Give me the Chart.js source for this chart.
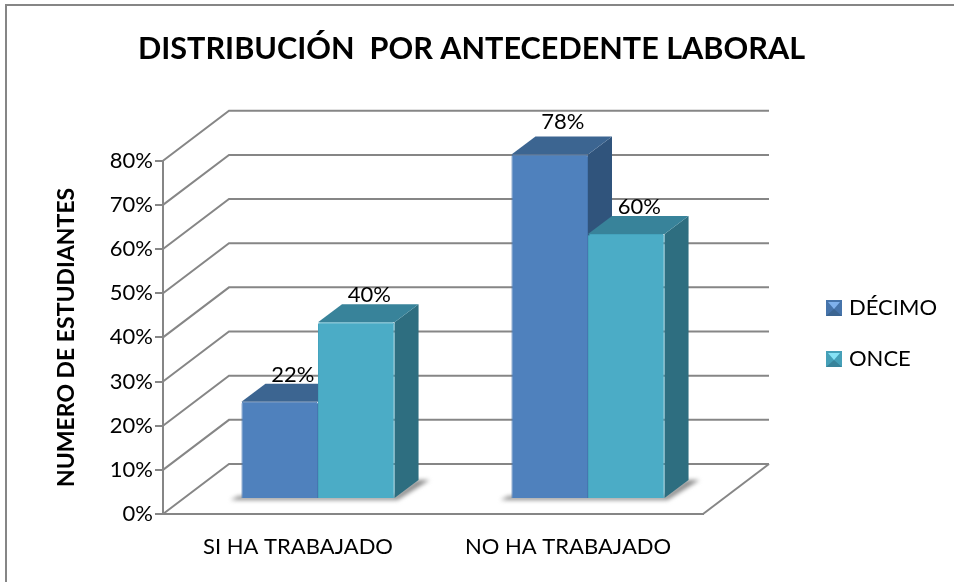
<!DOCTYPE html>
<html lang="es">
<head>
<meta charset="utf-8">
<title>Distribución por antecedente laboral</title>
<script src="https://cdn.jsdelivr.net/npm/chart.js@4"></script>
<style>
    html, body { margin: 0; background: #fff; }
    #wrap { position: relative; width: 954px; height: 582px; overflow: hidden; }
    #wrap::after { content: ""; position: absolute; left: 5px; top: 4px; width: 949px; height: 578px; box-sizing: border-box; border-left: 2px solid #868686; border-top: 2px solid #868686; pointer-events: none; }
</style>
</head>
<body>
<div id="wrap"><canvas id="grafico" width="954" height="582"></canvas></div>
<script>
const categorias = ['SI HA TRABAJADO', 'NO HA TRABAJADO'];
const decimo = [22, 78];
const once = [40, 60];
const nombres = ['DÉCIMO', 'ONCE'];
const marcasY = [0, 10, 20, 30, 40, 50, 60, 70, 80];

const FUENTE = 'Lato';
const GRIS = '#868686';
// offset of the back wall and of the bars from the front of the floor
const FONDO = { x: 66, y: -50 };
const BARRA = { x: 20, y: -15 };
const PROF = { x: 24, y: -18 };
const CARAS = [
    { frente: '#4f81bd', borde: '#4676b0', techo: '#3c6591', lado: '#30547c' },
    { frente: '#4bacc6', borde: '#44a3bd', techo: '#38839a', lado: '#2e6e80' }
];

function iconoLeyenda(base, luz, sombraIcono) {
    const cv = document.createElement('canvas');
    cv.width = 16; cv.height = 16;
    const g = cv.getContext('2d');
    g.fillStyle = base; g.fillRect(0, 0, 16, 16);
    g.fillStyle = luz;
    g.beginPath(); g.moveTo(2, 2); g.lineTo(14, 2); g.lineTo(8, 9); g.closePath(); g.fill();
    g.fillStyle = sombraIcono;
    g.beginPath(); g.moveTo(0, 16); g.lineTo(16, 16); g.lineTo(8, 9); g.closePath(); g.fill();
    return cv;
}
const iconos = [iconoLeyenda('#4674ab', '#7fb1ec', '#3c6591'), iconoLeyenda('#45a0b8', '#86e2f5', '#38839a')];

// walls and floor, taken from the y scale
const paredes = {
    id: 'paredes',
    beforeDatasetsDraw(chart) {
        const { ctx, scales: { x, y } } = chart;
        ctx.save();
        ctx.strokeStyle = GRIS;
        ctx.lineWidth = 2;
        marcasY.forEach(v => {
            const py = y.getPixelForValue(v);
            ctx.beginPath();
            ctx.moveTo(x.left, py);
            ctx.lineTo(x.left + FONDO.x, py + FONDO.y);
            ctx.lineTo(x.right + FONDO.x, py + FONDO.y);
            ctx.stroke();
        });
        const base = y.getPixelForValue(0);
        ctx.beginPath();
        ctx.moveTo(x.right, base);
        ctx.lineTo(x.right + FONDO.x, base + FONDO.y);
        ctx.stroke();
        ctx.restore();
    }
};

// soft shadow on the floor under each pair of bars
const sombra = {
    id: 'sombra',
    beforeDatasetsDraw(chart) {
        const { ctx } = chart;
        const a = chart.getDatasetMeta(0).data;
        const b = chart.getDatasetMeta(1).data;
        ctx.save();
        ctx.filter = 'blur(2px)';
        ctx.fillStyle = '#8c8c8c';
        a.forEach((el, i) => {
            const izq = el.x - el.width / 2 + BARRA.x;
            const der = b[i].x + b[i].width / 2 + BARRA.x;
            const suelo = el.base + BARRA.y;
            ctx.beginPath();
            ctx.moveTo(izq - 11, suelo + 2);
            ctx.lineTo(der + 3, suelo + 2);
            ctx.lineTo(der + PROF.x + 11, suelo + PROF.y);
            ctx.lineTo(der + PROF.x - 2, suelo + PROF.y);
            ctx.lineTo(der, suelo - 2);
            ctx.lineTo(izq - 3, suelo - 2);
            ctx.closePath();
            ctx.fill();
        });
        ctx.restore();
    }
};

// the library draws the front faces; tops and sides come from the same elements
const barras3d = {
    id: 'barras3d',
    beforeDatasetsDraw(chart) {
        const { ctx } = chart;
        chart.data.datasets.forEach((ds, d) => {
            const cara = CARAS[d];
            chart.getDatasetMeta(d).data.forEach(el => {
                const l = el.x - el.width / 2 + BARRA.x;
                const r = el.x + el.width / 2 + BARRA.x;
                const t = el.y + BARRA.y;
                const b = el.base + BARRA.y;
                ctx.fillStyle = cara.lado;
                ctx.beginPath();
                ctx.moveTo(r, t);
                ctx.lineTo(r + PROF.x, t + PROF.y);
                ctx.lineTo(r + PROF.x, b + PROF.y);
                ctx.lineTo(r, b);
                ctx.closePath();
                ctx.fill();
                ctx.fillStyle = cara.techo;
                ctx.beginPath();
                ctx.moveTo(l, t);
                ctx.lineTo(l + PROF.x, t + PROF.y);
                ctx.lineTo(r + PROF.x, t + PROF.y);
                ctx.lineTo(r, t);
                ctx.closePath();
                ctx.fill();
            });
        });
    },
    beforeDatasetDraw(chart) {
        chart.ctx.save();
        chart.ctx.translate(BARRA.x, BARRA.y);
    },
    afterDatasetDraw(chart) {
        chart.ctx.restore();
    },
    afterDatasetsDraw(chart) {
        const { ctx } = chart;
        ctx.save();
        ctx.fillStyle = '#000';
        ctx.font = '22px ' + FUENTE;
        ctx.textAlign = 'center';
        ctx.textBaseline = 'middle';
        chart.data.datasets.forEach((ds, d) => {
            chart.getDatasetMeta(d).data.forEach((el, i) => {
                // the tallest label sits a little higher in the original
                const extra = ds.data[i] === 78 ? -6 : 0;
                ctx.fillText(ds.data[i] + '%', el.x + BARRA.x + 13, el.y + BARRA.y - 27 + extra);
            });
        });
        ctx.restore();
    }
};

// legend: fixed width so the plot keeps its place, then moved next to the floor
const leyendaFija = {
    id: 'leyendaFija',
    beforeInit(chart) {
        const fit = chart.legend.fit;
        chart.legend.fit = function () {
            fit.call(this);
            this.width = 251;
        };
    },
    afterLayout(chart) {
        chart.legend.left = 801;
        chart.legend.right = 954;
        chart.legend.top = 268;
        chart.titleBlock.right -= 11;
    }
};

new Chart(document.getElementById('grafico'), {
    type: 'bar',
    data: {
        labels: categorias,
        datasets: [
            { label: nombres[0], data: decimo, backgroundColor: CARAS[0].frente, borderColor: CARAS[0].borde, borderWidth: 1, borderRadius: 2 },
            { label: nombres[1], data: once, backgroundColor: CARAS[1].frente, borderColor: CARAS[1].borde, borderWidth: 1, borderRadius: 2 }
        ]
    },
    options: {
        responsive: false,
        animation: false,
        categoryPercentage: 0.567,
        barPercentage: 1,
        layout: { padding: { left: 0, right: 0, top: 0, bottom: 0 } },
        plugins: {
            tooltip: { enabled: false },
            title: {
                display: true,
                text: 'DISTRIBUCIÓN  POR ANTECEDENTE LABORAL',
                color: '#000',
                font: { family: FUENTE, size: 30.6, weight: 'bold' },
                padding: { top: 31, bottom: 93 }
            },
            legend: {
                position: 'right',
                align: 'start',
                labels: {
                    color: '#000',
                    font: { family: FUENTE, size: 22 },
                    usePointStyle: true,
                    pointStyleWidth: 8,
                    padding: 29,
                    generateLabels(chart) {
                        return Chart.defaults.plugins.legend.labels.generateLabels(chart).map((it, i) => {
                            it.pointStyle = iconos[i];
                            return it;
                        });
                    }
                }
            }
        },
        scales: {
            x: {
                grid: { display: false },
                border: { color: GRIS, width: 2 },
                ticks: { color: '#000', font: { family: FUENTE, size: 22 }, padding: 12 },
                afterFit(scale) { scale.height = 68; }
            },
            y: {
                min: 0,
                max: 80,
                grid: { drawOnChartArea: false, color: GRIS, lineWidth: 2, tickLength: 8 },
                border: { color: GRIS, width: 2 },
                ticks: {
                    color: '#000',
                    font: { family: FUENTE, size: 22 },
                    stepSize: 10,
                    padding: 2,
                    callback: v => v + '%'
                },
                title: {
                    display: true,
                    text: 'NUMERO DE ESTUDIANTES',
                    color: '#000',
                    font: { family: FUENTE, size: 23, weight: 'bold' },
                    padding: { top: 53, bottom: 0 }
                },
                afterFit(scale) { scale.width = 163; }
            }
        }
    },
    plugins: [leyendaFija, paredes, sombra, barras3d]
});
</script>
</body>
</html>
